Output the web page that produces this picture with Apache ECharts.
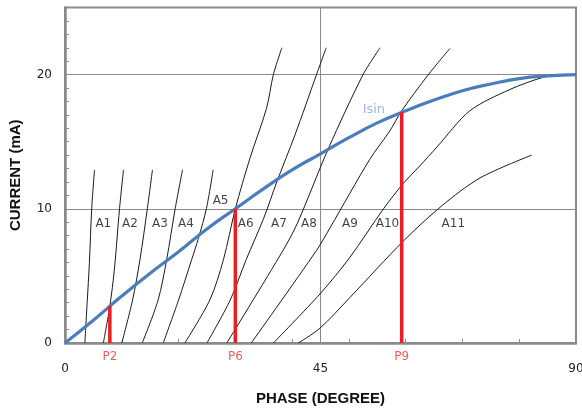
<!DOCTYPE html>
<html><head><meta charset="utf-8">
<script src="https://cdn.jsdelivr.net/npm/echarts@6/dist/echarts.min.js"></script>
<style>html,body{margin:0;padding:0;background:#fff}#c{width:582px;height:411px}</style>
</head><body><div id="c"></div>
<script>
// ---- data ----
const xTickLabels = [0, 45, 90];
const yTickLabels = [0, 10, 20];
const isinPhase   = [0, 5, 10, 15, 20, 25, 30, 35, 40, 45, 50, 55, 60, 65, 70, 75, 80, 85, 90];
const isinCurrent = [0, 1.7, 3.5, 5.2, 6.8, 8.5, 10.0, 11.5, 12.9, 14.1, 15.3, 16.4, 17.3, 18.1, 18.8, 19.3, 19.7, 19.9, 20.0];
const curveA1  = [[3.5,0],[3.9,3],[4.3,6],[4.7,10],[5.2,12.9]];
const curveA2  = [[6.75,0],[7.9,2.75],[8.7,5.5],[9.6,10],[10.3,12.9]];
const curveA3  = [[10.0,0],[11.9,3.2],[13.2,6.2],[14.5,10],[15.4,12.9]];
const curveA4  = [[13.6,0],[16.4,3.2],[17.9,6.2],[19.4,10],[20.7,12.9]];
const curveA5  = [[17.3,0],[20.0,3.2],[22.3,6.2],[23.5,7.8],[24.9,10],[26.1,12.9]];
const curveA6  = [[21.1,0],[25.5,3.2],[27.9,6.2],[30.0,10],[32.6,13.8],[35.5,17.5],[36.7,20],[38.2,22]];
const curveA7  = [[25.0,0],[29.1,3.2],[31.9,6.2],[35.0,9.3],[37.3,12.0],[40.5,15.5],[44.3,20],[46.0,22]];
const curveA8  = [[28.5,0],[38.4,6.9],[40.9,8.9],[46.4,14.5],[52.5,20],[55.5,22]];
const curveA9  = [[32.8,0],[44.3,6.9],[46.7,8.6],[53.7,13.7],[57.2,15.8],[59.3,17.3],[64.0,20],[67.8,21.95]];
const curveA10 = [[36.7,0],[45,3.7],[50.2,6.4],[56.1,10],[59.6,11.9],[62.5,13.2],[65.5,14.6],[71.3,17.3],[78.4,18.9],[84.2,19.8],[86.6,19.95]];
const curveA11 = [[41.1,0],[44.9,1.1],[50.2,3.4],[59.6,7.6],[66.3,10.2],[73.1,12.3],[82.2,14.0]];
const curveNames   = ['A1','A2','A3','A4','A5','A6','A7','A8','A9','A10','A11'];
const labelPhase   = [6.75, 11.45, 16.73, 21.3, 27.4, 31.84, 37.69, 42.97, 50.19, 56.8, 68.4];
const labelCurrent = [8.9, 8.9, 8.9, 8.9, 10.6, 8.9, 8.9, 8.9, 8.9, 8.9, 8.9];
const pNames   = ['P2', 'P6', 'P9'];
const pPhase   = [7.9, 30, 59.3];
const pCurrent = [2.75, 10, 17.2];
const isinName = 'Isin';
const isinLabelPos = [54.4, 17.4];

// ---- chart ----
const curves = [curveA1,curveA2,curveA3,curveA4,curveA5,curveA6,curveA7,curveA8,curveA9,curveA10,curveA11];
const FONT = 'DejaVu Sans';
const chart = echarts.init(document.getElementById('c'), null, {renderer: 'canvas'});
const series = [];
curves.forEach((c, i) => series.push({
  type: 'line', name: curveNames[i], data: c, smooth: 0.3, showSymbol: false, silent: true,
  lineStyle: {color: '#1a1a1a', width: 1}, z: 2
}));
series.push({
  type: 'line', name: isinName, data: isinPhase.map((p, i) => [p, isinCurrent[i]]),
  smooth: true, showSymbol: false, lineStyle: {color: '#4a7ebb', width: 3.2}, z: 4
});
pPhase.forEach((p, i) => series.push({
  type: 'line', data: [[p, 0], [p, pCurrent[i]]], showSymbol: false,
  lineStyle: {color: '#ee1c24', width: 3.5}, z: 5
}));
series.push({
  type: 'scatter', clip: false, symbolSize: 1, itemStyle: {color: 'transparent'}, z: 6,
  data: curveNames.map((n, i) => ({name: n, value: [labelPhase[i], labelCurrent[i]]})),
  label: {show: true, position: 'inside', formatter: p => p.name, color: '#111', fontFamily: FONT, fontSize: 12}
});
series.push({
  type: 'scatter', clip: false, symbolSize: 1, itemStyle: {color: 'transparent'}, z: 6,
  data: pNames.map((n, i) => ({name: n, value: [pPhase[i], 0]})),
  label: {show: true, position: 'bottom', distance: 7, formatter: p => p.name, color: '#ee3333', fontFamily: FONT, fontSize: 12}
});
series.push({
  type: 'scatter', clip: false, symbolSize: 1, itemStyle: {color: 'transparent'}, z: 6,
  data: [{name: isinName, value: isinLabelPos}],
  label: {show: true, position: 'inside', formatter: p => p.name, color: '#82a7da', fontFamily: FONT, fontSize: 13}
});

chart.setOption({
  animation: false,
  backgroundColor: '#fff',
  textStyle: {fontFamily: FONT},
  grid: {left: 65, right: 6, top: 7.5, bottom: 68, show: true, borderColor: '#8a8a8a', borderWidth: 2,
    backgroundColor: 'transparent', containLabel: false, outerBoundsMode: 'none'},
  xAxis: [{
    type: 'value', min: xTickLabels[0], max: xTickLabels[2], interval: 45, position: 'bottom',
    name: 'PHASE (DEGREE)', nameLocation: 'middle', nameGap: 48,
    nameTextStyle: {fontFamily: 'Liberation Sans', fontWeight: 'bold', fontSize: 15, color: '#111'},
    axisLine: {show: true, lineStyle: {color: '#8a8a8a', width: 2.5}},
    axisTick: {show: false},
    axisLabel: {margin: 20, color: '#222', fontSize: 12, fontFamily: FONT},
    splitLine: {show: true, lineStyle: {color: '#8a8a8a', width: 1}}
  }, {
    type: 'value', min: 0, max: 90, interval: 10, position: 'bottom',
    axisLine: {show: false}, axisLabel: {show: false}, splitLine: {show: false},
    axisTick: {show: true, inside: true, length: 4, lineStyle: {color: '#8a8a8a', width: 1}}
  }],
  yAxis: [{
    type: 'value', min: yTickLabels[0], max: 25, interval: 10, position: 'left',
    name: 'CURRENT (mA)', nameLocation: 'middle', nameGap: 42,
    nameTextStyle: {fontFamily: 'Liberation Sans', fontWeight: 'bold', fontSize: 15, color: '#111'},
    axisLine: {show: true, lineStyle: {color: '#8a8a8a', width: 2.5}},
    axisTick: {show: false},
    axisLabel: {margin: 13, color: '#222', fontSize: 12, fontFamily: FONT, showMaxLabel: false,
      formatter: v => yTickLabels.includes(v) ? String(v) : ''},
    splitLine: {show: true, lineStyle: {color: '#8a8a8a', width: 1}}
  }, {
    type: 'value', min: 0, max: 25, interval: 1, position: 'left',
    axisLine: {show: false}, axisLabel: {show: false}, splitLine: {show: false},
    axisTick: {show: true, inside: true, length: 4, lineStyle: {color: '#8a8a8a', width: 1}}
  }],
  series: series
});
</script></body></html>
